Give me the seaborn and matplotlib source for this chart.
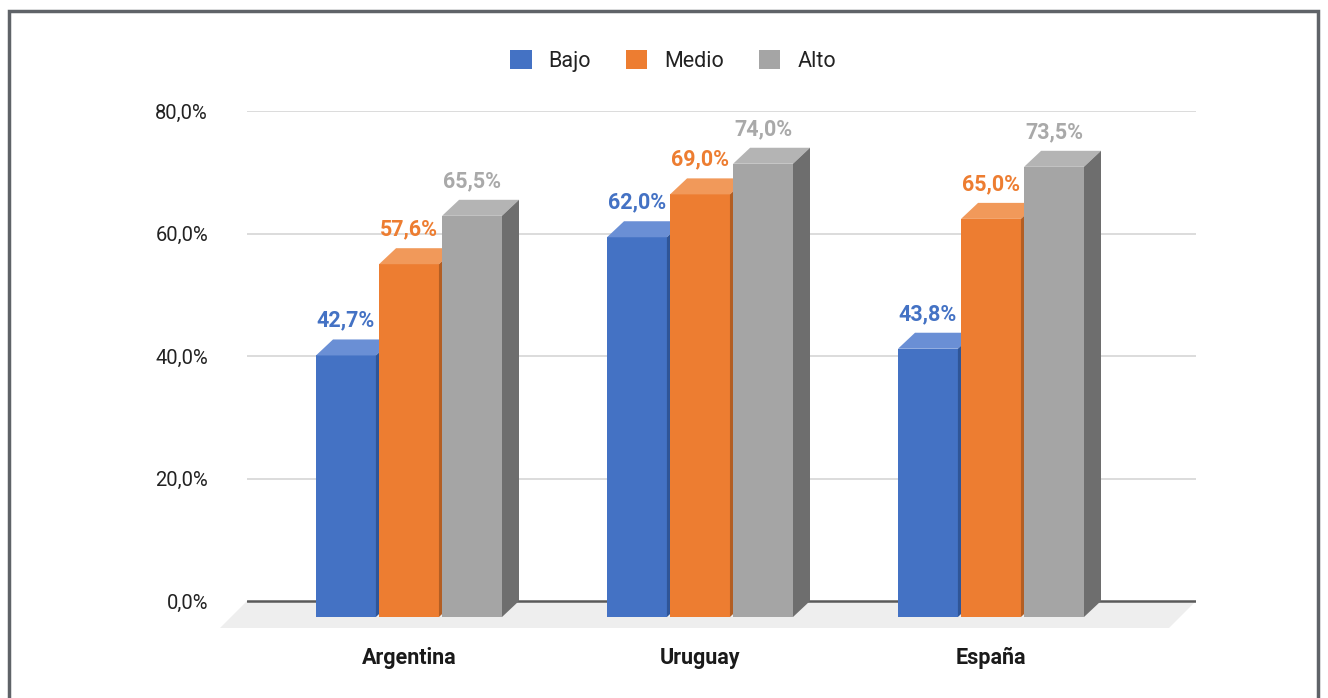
import numpy as np
import pandas as pd
import matplotlib
matplotlib.use("Agg")
import matplotlib.pyplot as plt
import seaborn as sns
from matplotlib.patches import Polygon, Patch, Rectangle

countries = ["Argentina", "Uruguay", "España"]
levels = ["Bajo", "Medio", "Alto"]
bajo = [42.7, 62.0, 43.8]
medio = [57.6, 69.0, 65.0]
alto = [65.5, 74.0, 73.5]
yticks = [0, 20, 40, 60, 80]
ytick_labels = ["0,0%", "20,0%", "40,0%", "60,0%", "80,0%"]

front_colors = ["#4472c4", "#ed7d31", "#a5a5a5"]
top_colors = ["#6a8fd5", "#f1995a", "#b4b4b4"]
side_colors = ["#2f5597", "#b35e23", "#6e6e6e"]
label_colors = ["#4472c4", "#ed7d31", "#a9a9a9"]

rows = []
for i, c in enumerate(countries):
    for lev, vals in zip(levels, [bajo, medio, alto]):
        rows.append({"country": c, "level": lev, "value": vals[i]})
df = pd.DataFrame(rows)

sns.set_theme(style="white")
plt.rcParams["font.family"] = ["Roboto", "DejaVu Sans"]

W, H = 1328, 698
fig = plt.figure(figsize=(W / 100, H / 100), dpi=100)

# axes placement in pixels
ax_left, ax_right = 247, 1196
y0_px, y80_px = 601, 111
ymin, ymax = -5, 80
px_per_y = (y0_px - y80_px) / 80.0
ax_top = y0_px - ymax * px_per_y
ax_bottom = y0_px - ymin * px_per_y
ax = fig.add_axes([ax_left / W, 1 - ax_bottom / H, (ax_right - ax_left) / W, (ax_bottom - ax_top) / H])

sns.barplot(data=df, x="country", y="value", hue="level", order=countries,
            hue_order=levels, palette=front_colors, width=0.65, gap=0.05,
            ax=ax, legend=False, saturation=1)

group_px = 291.0
x_lo = -(409 - ax_left) / group_px
x_hi = 2 + (ax_right - 991) / group_px
ax.set_xlim(x_lo, x_hi)
ax.set_ylim(ymin, ymax)
px_per_x = (ax_right - ax_left) / (x_hi - x_lo)

dx = 17 / px_per_x
dy = 16 / px_per_y

# floor
fx = 27 / px_per_x
fy = 27 / px_per_y
floor = Polygon([(x_lo, 0), (x_hi, 0), (x_hi - fx, -fy), (x_lo - fx, -fy)],
                closed=True, facecolor="#eeeeee", edgecolor="none", zorder=1, clip_on=False)
ax.add_patch(floor)

# gridlines
for t in yticks[1:]:
    ax.axhline(t, color="#d6d6d6", lw=1.2, zorder=0.5)
ax.axhline(0, color="#5a5a5a", lw=1.8, zorder=1.5)

# make 3D bars (barplot adds patches hue by hue)
bars = [p for p in ax.patches if p is not floor]
n_c = len(countries)
for k, p in enumerate(bars):
    hidx = k // n_c
    x = p.get_x()
    w = p.get_width()
    v = p.get_height()
    z = 2 + hidx
    p.set_y(-dy)
    p.set_zorder(z)
    p.set_edgecolor("none")
    top = Polygon([(x, v - dy), (x + w, v - dy), (x + w + dx, v), (x + dx, v)],
                  closed=True, facecolor=top_colors[hidx], edgecolor="none", zorder=z)
    side = Polygon([(x + w, -dy), (x + w + dx, 0), (x + w + dx, v), (x + w, v - dy)],
                   closed=True, facecolor=side_colors[hidx], edgecolor="none", zorder=z)
    ax.add_patch(top)
    ax.add_patch(side)
    ax.text(x + w / 2, v + 2.1, f"{v:.1f}%".replace(".", ","), ha="center", va="baseline",
            fontsize=15.5, fontweight="bold", color=label_colors[hidx], zorder=10)

for s in ax.spines.values():
    s.set_visible(False)
ax.set_yticks(yticks)
ax.set_yticklabels(ytick_labels, fontsize=14.5, color="#222222")
ax.tick_params(axis="y", length=0, pad=28)
ax.tick_params(axis="x", length=0, pad=11)
ax.set_xticks(range(len(countries)))
ax.set_xticklabels(countries, fontsize=15.5, fontweight="bold", color="#1a1a1a")
ax.set_xlabel("")
ax.set_ylabel("")

handles = [Patch(facecolor=c, edgecolor="none", label=l) for c, l in zip(front_colors, levels)]
fig.legend(handles=handles, loc="center", bbox_to_anchor=(673 / W, 1 - 61 / H), ncol=3,
           frameon=False, fontsize=15.5, handlelength=1.0, handleheight=1.0,
           handletextpad=0.8, columnspacing=1.6, labelcolor="#222222")

# outer frame
fig.patches.append(Rectangle((9 / W, -0.05), (1318 - 9) / W, 1.05 - 11 / H,
                             transform=fig.transFigure, fill=False,
                             edgecolor="#5f6368", lw=2.5))

fig.savefig("out.png", dpi=100)
